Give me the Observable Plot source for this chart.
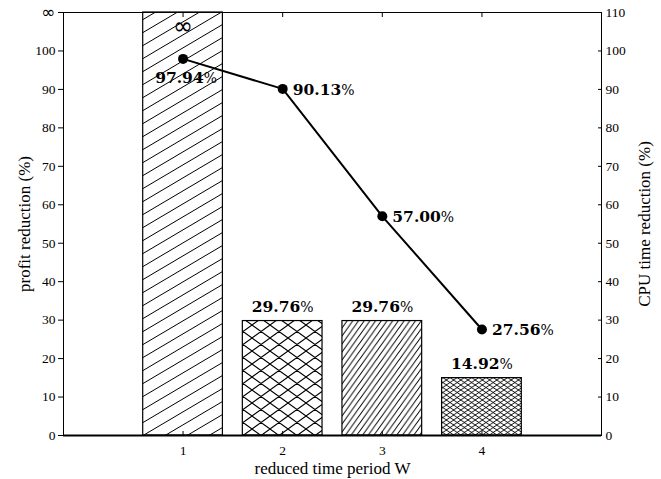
<!DOCTYPE html>
<html><head><meta charset="utf-8">
<script src="https://cdn.jsdelivr.net/npm/d3@7"></script>
<script src="https://cdn.jsdelivr.net/npm/@observablehq/plot@0.6"></script>
<style>body{margin:0;background:#fff;} svg{display:block;}</style>
</head><body><div id="chart"></div>
<script>
// ---- data ----
const periods = [1, 2, 3, 4];
const profitReduction = [Infinity, 29.76, 29.76, 14.92];
const profitLabels = ["∞", "29.76%", "29.76%", "14.92%"];
const cpuReduction = [97.94, 90.13, 57.00, 27.56];
const cpuLabels = ["97.94%", "90.13%", "57.00%", "27.56%"];
const leftTicks = [0, 10, 20, 30, 40, 50, 60, 70, 80, 90, 100, 110];
const leftTickLabels = ["0", "10", "20", "30", "40", "50", "60", "70", "80", "90", "100", "∞"];
const rightTicks = [0, 10, 20, 30, 40, 50, 60, 70, 80, 90, 100, 110];
const xTicks = [1, 2, 3, 4];

// ---- derived tables ----
const yTop = 110;
const bars = periods.map((w, i) => ({w, v: profitReduction[i], label: profitLabels[i], i}));
const pts = periods.map((w, i) => ({w, v: cpuReduction[i], label: cpuLabels[i], i}));
const halfBar = 0.4;

const plot = Plot.plot({
  width: 661, height: 479,
  marginLeft: 63, marginRight: 60, marginTop: 12, marginBottom: 44,
  style: {fontFamily: "'Liberation Serif', serif", fontSize: "13px", color: "black", background: "white"},
  x: {domain: [-0.2, 5.2]},
  y: {domain: [0, yTop]},
  color: {type: "identity"},
  marks: [
    Plot.rectY(bars, {
      x1: d => d.w - halfBar, x2: d => d.w + halfBar,
      y1: 0, y2: d => isFinite(d.v) ? d.v : yTop,
      fill: d => `url(#hatch${d.i})`, stroke: "black", strokeWidth: 1.2
    }),
    Plot.frame({stroke: "black", strokeWidth: 1}),
    Plot.ruleY([0], {stroke: "black", strokeWidth: 2}),
    Plot.axisY({ticks: leftTicks, tickFormat: (d) => leftTickLabels[leftTicks.indexOf(d)],
      tickSize: 5, tickPadding: 3, label: "profit reduction (%)", labelAnchor: "center", labelOffset: 46, labelArrow: "none", fontSize: 13.5}),
    Plot.axisY({anchor: "right", ticks: rightTicks, tickSize: -4, tickPadding: 8,
      label: "CPU time reduction (%)", labelAnchor: "center", labelOffset: 48, labelArrow: "none", fontSize: 13.5}),
    Plot.axisX({ticks: xTicks, tickFormat: d3.format("d"), tickSize: -4, tickPadding: 14, label: "reduced time period W",
      labelAnchor: "center", labelOffset: 38, labelArrow: "none", fontSize: 13.5}),
    Plot.axisX({anchor: "top", ticks: xTicks, tickSize: -4, tickFormat: () => "", label: null}),
    Plot.text(bars.filter(d => isFinite(d.v)), {x: "w", y: "v", text: "label", dy: -14, fontSize: 15.5}),
    Plot.text(bars.filter(d => !isFinite(d.v)), {x: "w", y: () => yTop, text: "label", dy: 14, fontSize: 24}),
    Plot.line(pts, {x: "w", y: "v", stroke: "black", strokeWidth: 2}),
    Plot.dot(pts, {x: "w", y: "v", r: 5, fill: "black"}),
    Plot.text(pts.filter(d => d.i === 0), {x: "w", y: "v", text: "label", dx: 3, dy: 19, fontSize: 15.5}),
    Plot.text(pts.filter(d => d.i > 0), {x: "w", y: "v", text: "label", dx: 10, dy: 1, textAnchor: "start", fontSize: 15.5})
  ]
});

document.getElementById("chart").appendChild(plot);
const svg = plot.tagName.toLowerCase() === "svg" ? plot : plot.querySelector("svg");

// hatch patterns
const defs = d3.select(svg).insert("defs", ":first-child");
function hatch(id, w, h, cross, sw) {
  const p = defs.append("pattern").attr("id", id).attr("patternUnits", "userSpaceOnUse")
    .attr("width", w).attr("height", h);
  p.append("rect").attr("width", w).attr("height", h).attr("fill", "white");
  let d = `M${-w},${2*h}L${2*w},${-h}M${-w},${h}L${w},${-h}M0,${2*h}L${2*w},0`;
  if (cross) d += `M${-w},${-h}L${2*w},${2*h}M${-w},0L${w},${2*h}M0,${-h}L${2*w},${h}`;
  p.append("path").attr("d", d).attr("stroke", "black").attr("stroke-width", sw).attr("fill", "none");
}
hatch("hatch0", 22, 13, false, 1);
hatch("hatch1", 18, 13, true, 1.1);
hatch("hatch2", 5.7, 8, false, 1);
hatch("hatch3", 7.2, 5, true, 0.9);

// bold number (wide serif) + regular percent sign; infinity glyph font
d3.select(svg).selectAll("text").each(function() {
  const t = this.textContent;
  const m = /^([\d.]+)%$/.exec(t);
  const s = d3.select(this);
  if (m) {
    s.text(null);
    s.append("tspan").attr("font-weight", "bold").attr("font-family", "'DejaVu Serif'").text(m[1]);
    s.append("tspan").attr("font-weight", "normal").attr("font-family", "'DejaVu Serif'").attr("font-size", 14).text("%");
  } else if (t === "∞") {
    s.style("font-family", "'DejaVu Sans', sans-serif").attr("font-family", "'DejaVu Sans', sans-serif");
    if (this.closest('g[aria-label="y-axis tick label"]')) s.attr("font-size", 17).style("font-size", "17px");
  }
});
// axis titles larger
d3.select(svg).selectAll('g[aria-label$="axis label"] text').attr("font-size", 17);
</script>
</body></html>
